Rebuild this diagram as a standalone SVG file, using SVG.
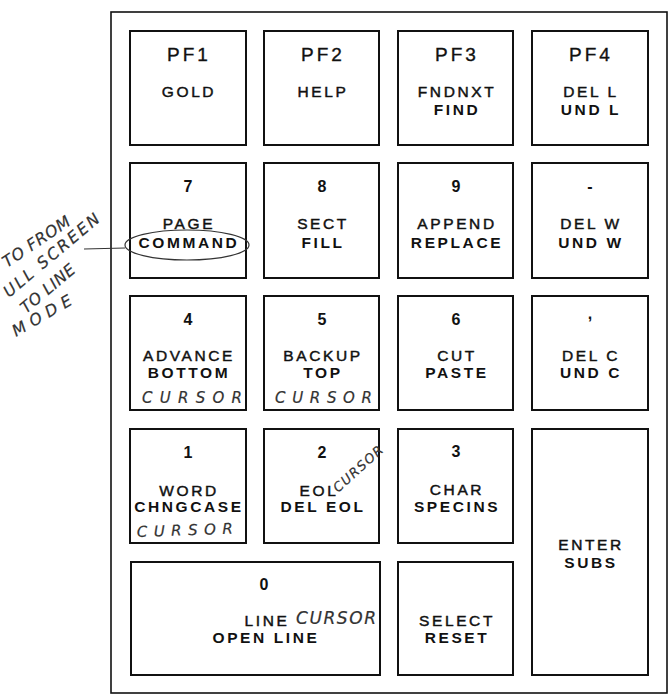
<svg xmlns="http://www.w3.org/2000/svg" width="670" height="698" viewBox="0 0 670 698">
<style>
.key{fill:#fff;stroke:#111;stroke-width:2}
.frame{fill:#fff;stroke:#111;stroke-width:1.6}
text{font-family:"Liberation Sans",Arial,sans-serif;fill:#111;text-anchor:middle}
.pf{font-size:19px;letter-spacing:3px;stroke:#111;stroke-width:0.35}
.dig{font-size:16px;font-weight:bold}
.a{font-size:15.5px;letter-spacing:2.6px;stroke:#111;stroke-width:0.45}
.b{font-size:15.5px;letter-spacing:2.6px;font-weight:bold}
.h{font-family:"DejaVu Sans","Liberation Sans",sans-serif;font-size:15px;font-style:italic;fill:#333;text-anchor:start;stroke:#333;stroke-width:0.2}
.ink{fill:none;stroke:#333;stroke-width:1.2}
</style>
<rect class="frame" x="111" y="12" width="556" height="681"/>

<g id="key-pf1"><rect class="key" x="130" y="31" width="116" height="114"/><text class="pf" x="189" y="61">PF1</text><text class="a" x="189" y="97">GOLD</text></g>
<g id="key-pf2"><rect class="key" x="264" y="31" width="115" height="114"/><text class="pf" x="323" y="61">PF2</text><text class="a" x="323" y="97">HELP</text></g>
<g id="key-pf3"><rect class="key" x="398" y="31" width="115" height="114"/><text class="pf" x="457" y="61">PF3</text><text class="a" x="457" y="97">FNDNXT</text><text class="b" x="457" y="115">FIND</text></g>
<g id="key-pf4"><rect class="key" x="532" y="31" width="116" height="114"/><text class="pf" x="591" y="61">PF4</text><text class="a" x="591" y="97">DEL L</text><text class="b" x="591" y="115">UND L</text></g>

<g id="key-7"><rect class="key" x="130" y="163" width="116" height="115"/><text class="dig" x="188" y="192">7</text><text class="a" x="189" y="229">PAGE</text><text class="b" x="189" y="248">COMMAND</text></g>
<g id="key-8"><rect class="key" x="264" y="163" width="115" height="115"/><text class="dig" x="322" y="192">8</text><text class="a" x="323" y="229">SECT</text><text class="b" x="323" y="248">FILL</text></g>
<g id="key-9"><rect class="key" x="398" y="163" width="115" height="115"/><text class="dig" x="456" y="192">9</text><text class="a" x="457" y="229">APPEND</text><text class="b" x="457" y="248">REPLACE</text></g>
<g id="key-minus"><rect class="key" x="532" y="163" width="116" height="115"/><text class="dig" x="590" y="192">-</text><text class="a" x="591" y="229">DEL W</text><text class="b" x="591" y="248">UND W</text></g>

<g id="key-4"><rect class="key" x="130" y="296" width="116" height="114"/><text class="dig" x="188" y="325">4</text><text class="a" x="189" y="361">ADVANCE</text><text class="b" x="189" y="378">BOTTOM</text></g>
<g id="key-5"><rect class="key" x="264" y="296" width="115" height="114"/><text class="dig" x="322" y="325">5</text><text class="a" x="323" y="361">BACKUP</text><text class="b" x="323" y="378">TOP</text></g>
<g id="key-6"><rect class="key" x="398" y="296" width="115" height="114"/><text class="dig" x="456" y="325">6</text><text class="a" x="457" y="361">CUT</text><text class="b" x="457" y="378">PASTE</text></g>
<g id="key-comma"><rect class="key" x="532" y="296" width="116" height="114"/><text class="dig" x="590" y="319">,</text><text class="a" x="591" y="361">DEL C</text><text class="b" x="591" y="378">UND C</text></g>

<g id="key-1"><rect class="key" x="130" y="429" width="116" height="114"/><text class="dig" x="188" y="458">1</text><text class="a" x="189" y="496">WORD</text><text class="b" x="189" y="512">CHNGCASE</text></g>
<g id="key-2"><rect class="key" x="264" y="429" width="115" height="114"/><text class="dig" x="322" y="458">2</text><text class="a" x="319" y="496">EOL</text><text class="b" x="323" y="512">DEL EOL</text></g>
<g id="key-3"><rect class="key" x="398" y="429" width="115" height="114"/><text class="dig" x="456" y="457">3</text><text class="a" x="457" y="495">CHAR</text><text class="b" x="457" y="512">SPECINS</text></g>
<g id="key-enter"><rect class="key" x="532" y="429" width="116" height="246"/><text class="a" x="591" y="550">ENTER</text><text class="b" x="591" y="568">SUBS</text></g>

<g id="key-0"><rect class="key" x="131" y="562" width="249" height="113"/><text class="dig" x="264" y="590">0</text><text class="a" x="267" y="626">LINE</text><text class="b" x="266" y="643">OPEN LINE</text></g>
<g id="key-select"><rect class="key" x="398" y="562" width="115" height="113"/><text class="a" x="457" y="626">SELECT</text><text class="b" x="457" y="643">RESET</text></g>

<g id="handwriting">
<text class="h" x="142" y="403" textLength="100" lengthAdjust="spacing">CURSOR</text>
<text class="h" x="275" y="403" textLength="97" lengthAdjust="spacing">CURSOR</text>
<text class="h" x="137" y="537" textLength="96" lengthAdjust="spacing" transform="rotate(-2 137 537)">CURSOR</text>
<text class="h" x="296" y="624" textLength="80" lengthAdjust="spacing" style="font-size:17px">CURSOR</text>
<text class="h" x="338" y="493" textLength="62" lengthAdjust="spacing" transform="rotate(-42 338 493)" style="font-size:13px">CURSOR</text>
<text class="h" x="7" y="268" textLength="78" lengthAdjust="spacing" transform="rotate(-34 7 268)" style="font-size:16px">TO FROM</text>
<text class="h" x="9" y="298" textLength="120" lengthAdjust="spacing" transform="rotate(-40 9 298)" style="font-size:16px">ULL SCREEN</text>
<text class="h" x="26" y="314" textLength="66" lengthAdjust="spacing" transform="rotate(-40 26 314)" style="font-size:16px">TO LINE</text>
<text class="h" x="16" y="337" textLength="66" lengthAdjust="spacing" transform="rotate(-30 16 337)" style="font-size:16px">MODE</text>
</g>

<g id="connectors">
<ellipse class="ink" cx="187" cy="245" rx="62" ry="15"/>
<path class="ink" d="M84 249 L125 248"/>
</g>
</svg>
